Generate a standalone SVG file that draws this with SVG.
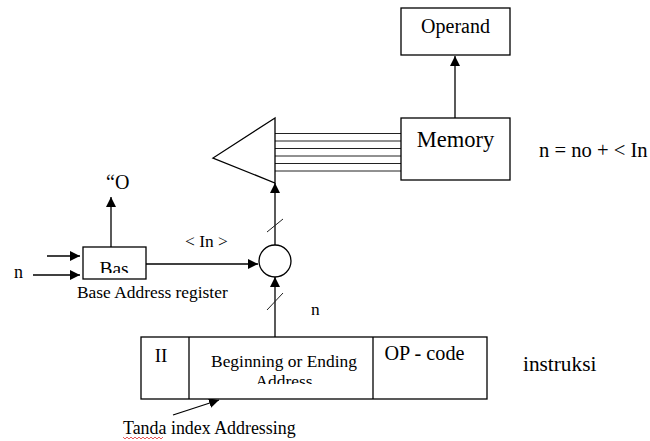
<svg xmlns="http://www.w3.org/2000/svg" width="650" height="441" viewBox="0 0 650 441">
  <style>
    .box { fill: #fff; stroke: #000; stroke-width: 1.3; }
    .ln { fill: none; stroke: #000; stroke-width: 1.3; }
    .thin { fill: none; stroke: #222; stroke-width: 1; }
    text { font-family: "Liberation Serif", "Times New Roman", serif; fill: #000; }
  </style>
  <defs>
    <marker id="arr" viewBox="0 0 10 10" refX="10" refY="5" markerWidth="10" markerHeight="10" markerUnits="userSpaceOnUse" orient="auto">
      <path d="M0,0 L10,5 L0,10 z" fill="#000"/>
    </marker>
    <clipPath id="clipBas"><rect x="83" y="247" width="63" height="26"/></clipPath>
    <clipPath id="clipAddr"><rect x="189" y="337" width="184" height="47"/></clipPath>
  </defs>

  <!-- connectors -->
  <g id="connectors">
    <!-- memory to operand -->
    <line class="ln" x1="455" y1="118" x2="455" y2="56" marker-end="url(#arr)"/>
    <!-- data bus from memory to selector -->
    <g class="thin">
      <line x1="275" y1="133.5" x2="401" y2="133.5"/>
      <line x1="275" y1="141" x2="401" y2="141"/>
      <line x1="275" y1="148.5" x2="401" y2="148.5"/>
      <line x1="275" y1="156" x2="401" y2="156"/>
      <line x1="275" y1="163.5" x2="401" y2="163.5"/>
      <line x1="275" y1="171" x2="401" y2="171"/>
    </g>
    <!-- adder to selector -->
    <line class="ln" x1="275" y1="245" x2="275" y2="183" marker-end="url(#arr)"/>
    <line class="thin" x1="267" y1="232" x2="283" y2="219"/>
    <!-- instruction to adder -->
    <line class="ln" x1="275" y1="337" x2="275" y2="277" marker-end="url(#arr)"/>
    <line class="thin" x1="267" y1="310" x2="283" y2="293"/>
    <!-- base register to adder -->
    <line class="ln" x1="146" y1="264" x2="258" y2="264" marker-end="url(#arr)"/>
    <!-- base register output -->
    <line class="ln" x1="111" y1="247" x2="111" y2="197" marker-end="url(#arr)"/>
    <!-- inputs to base register -->
    <line class="ln" x1="47" y1="256" x2="80" y2="256" marker-end="url(#arr)"/>
    <line class="ln" x1="33" y1="275" x2="80" y2="275" marker-end="url(#arr)"/>
    <!-- index addressing pointer -->
    <line class="ln" x1="173" y1="415" x2="219" y2="400" marker-end="url(#arr)"/>
  </g>

  <g id="operand">
    <rect class="box" x="401" y="8" width="109" height="47"/>
    <text x="455.5" y="33" font-size="20" text-anchor="middle">Operand</text>
  </g>

  <g id="memory">
    <rect class="box" x="401" y="118" width="109" height="62"/>
    <text x="455.5" y="147" font-size="22.5" text-anchor="middle">Memory</text>
  </g>

  <g id="selector">
    <path class="ln" d="M275,118 L213,158 L275,183 Z"/>
  </g>

  <g id="adder">
    <circle class="box" cx="275" cy="261" r="16"/>
  </g>

  <g id="base-register">
    <rect class="box" x="83" y="247" width="63" height="32"/>
    <text x="114" y="275" font-size="19.5" text-anchor="middle" clip-path="url(#clipBas)">Bas</text>
  </g>

  <g id="instruction">
    <rect class="box" x="141" y="337" width="346" height="62"/>
    <line class="ln" x1="189" y1="337" x2="189" y2="399"/>
    <line class="ln" x1="373" y1="337" x2="373" y2="399"/>
    <text x="161" y="362" font-size="19" text-anchor="middle">II</text>
    <g clip-path="url(#clipAddr)">
      <text x="284" y="367" font-size="17.4" text-anchor="middle">Beginning or Ending</text>
      <text x="284" y="387" font-size="17.4" text-anchor="middle">Address</text>
    </g>
    <text x="424.5" y="360" font-size="20.2" text-anchor="middle">OP - code</text>
  </g>

  <g id="labels">
    <text x="106" y="189" font-size="20">“O</text>
    <text x="14" y="278" font-size="18">n</text>
    <text x="185" y="247" font-size="17.4">&lt; In &gt;</text>
    <text x="77" y="298" font-size="17.4">Base Address register</text>
    <text x="311" y="315" font-size="17.4">n</text>
    <text x="539" y="157" font-size="20.6">n = no + &lt; In</text>
    <text x="523" y="371" font-size="21.3">instruksi</text>
    <text x="123" y="434" font-size="17.9">Tanda index Addressing</text>
    <path d="M123,437 l2,2 l2,-2 l2,2 l2,-2 l2,2 l2,-2 l2,2 l2,-2 l2,2 l2,-2 l2,2 l2,-2 l2,2 l2,-2 l2,2 l2,-2 l2,2 l2,-2 l2,2 l2,-2" fill="none" stroke="#e03030" stroke-width="0.8"/>
  </g>
</svg>
